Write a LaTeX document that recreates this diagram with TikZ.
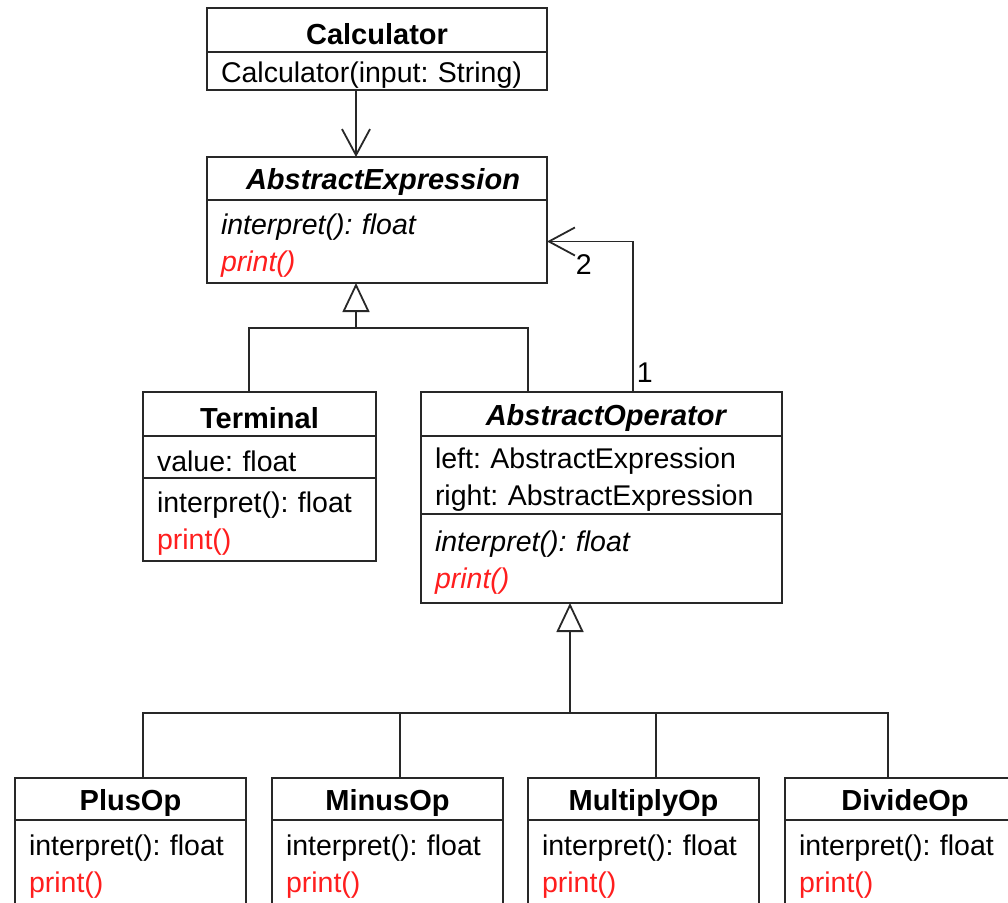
\documentclass[tikz,border=0pt]{standalone}
\usepackage{fontspec}
\setmainfont{Liberation Sans}
\usetikzlibrary{arrows.meta}
\definecolor{umlred}{RGB}{255,30,30}
\definecolor{umlline}{RGB}{40,40,40}
\frenchspacing

\begin{document}
\begin{tikzpicture}[x=1pt,y=-1pt,
  font=\fontsize{28.5}{37}\selectfont,
  title/.style={draw=umlline,line width=1.8pt,font=\fontsize{29}{37}\selectfont\bfseries,
    inner sep=0pt,outer sep=0pt,anchor=north west,minimum height=44pt,
    execute at begin node={\rule{0pt}{29pt}}},
  part/.style={draw=umlline,line width=1.8pt,align=left,inner xsep=14pt,inner ysep=0pt,
    outer sep=0pt,anchor=north west,execute at begin node={\rule{0pt}{29pt}}},
  line/.style={draw=umlline,line width=1.8pt},
  assoc/.style={line,-{Straight Barb[length=26pt,width=28pt]}},
  gen/.style={line,-{Triangle[fill=white,length=29pt,width=27pt]}}]

\useasboundingbox (0,0) rectangle (1008,902);
\clip (0,0) rectangle (1008,902);

%====================================================
% Calculator
%====================================================
\node[title,minimum width=340pt] (calc) at (207,8) {Calculator};
\node[part,text width=312pt,minimum height=38pt] (calc-m) at (calc.south west)
  {Calculator(input: String)};

%====================================================
% AbstractExpression
%====================================================
\node[title,minimum width=340pt,minimum height=43pt] (expr) at (207,157)
  {\hspace*{12pt}\textit{AbstractExpression}};
\node[part,text width=312pt,minimum height=83pt] (expr-m) at (expr.south west)
  {\textit{interpret(): float}\\\textcolor{umlred}{\textit{print()}}};

%====================================================
% Terminal
%====================================================
\node[title,minimum width=233pt] (term) at (143,392) {Terminal};
\node[part,text width=205pt,minimum height=42pt] (term-a) at (term.south west)
  {value: float};
\node[part,text width=205pt,minimum height=83pt] (term-m) at (term-a.south west)
  {interpret(): float\\\textcolor{umlred}{print()}};

%====================================================
% AbstractOperator
%====================================================
\node[title,minimum width=361pt] (absop) at (421,392) {\hspace*{10pt}\textit{AbstractOperator}};
\node[part,text width=333pt,minimum height=78pt] (absop-a) at (absop.south west)
  {left: AbstractExpression\\right: AbstractExpression};
\node[part,text width=333pt,minimum height=89pt] (absop-m) at (absop-a.south west)
  {\textit{interpret(): float}\\\textcolor{umlred}{\textit{print()}}};

%====================================================
% Operators
%====================================================
\node[title,minimum width=231pt,minimum height=42pt] (plus) at (15,778) {PlusOp};
\node[part,text width=203pt,minimum height=84pt] (plus-m) at (plus.south west)
  {interpret(): float\\\textcolor{umlred}{print()}};

\node[title,minimum width=231pt,minimum height=42pt] (minus) at (272,778) {MinusOp};
\node[part,text width=203pt,minimum height=84pt] (minus-m) at (minus.south west)
  {interpret(): float\\\textcolor{umlred}{print()}};

\node[title,minimum width=231pt,minimum height=42pt] (mult) at (528,778) {MultiplyOp};
\node[part,text width=203pt,minimum height=84pt] (mult-m) at (mult.south west)
  {interpret(): float\\\textcolor{umlred}{print()}};

\node[title,minimum width=240pt,minimum height=42pt] (divide) at (785,778) {DivideOp};
\node[part,text width=212pt,minimum height=84pt] (divide-m) at (divide.south west)
  {interpret(): float\\\textcolor{umlred}{print()}};

%====================================================
% Connectors
%====================================================
% Calculator -> AbstractExpression
\draw[assoc] ([xshift=-21pt]calc-m.south) -- ([xshift=-21pt]expr.north);

% AbstractOperator -> AbstractExpression
\draw[assoc] ([xshift=31.5pt]absop.north) |- (expr-m.east)
  node[pos=0,anchor=south west,inner sep=0pt,xshift=3pt,yshift=9pt] {1}
  node[pos=1,anchor=north west,inner sep=0pt,xshift=28pt,yshift=-12pt] {2};

% Generalization of AbstractExpression
\coordinate (busExpr) at (356,328);
\draw[line] ([xshift=-10.5pt]term.north) |- (busExpr) -| ([xshift=-73.5pt]absop.north);
\draw[gen] (busExpr) -- ([xshift=-21pt]expr-m.south);

% Generalization of AbstractOperator
\coordinate (busOp) at (570,713);
\draw[line] ([xshift=12.5pt]plus.north) |- (busOp) -| ([xshift=-17pt]divide.north);
\draw[line] ([xshift=12.5pt]minus.north) -- ([xshift=12.5pt]minus.north |- busOp);
\draw[line] ([xshift=12.5pt]mult.north) -- ([xshift=12.5pt]mult.north |- busOp);
\draw[gen] (busOp) -- ([xshift=-31.5pt]absop-m.south);

\end{tikzpicture}
\end{document}
